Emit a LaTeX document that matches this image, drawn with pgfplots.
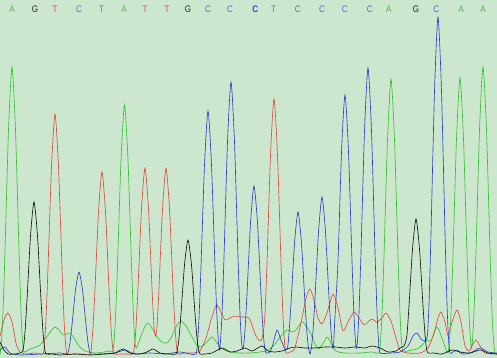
\documentclass[border=0pt]{standalone}
\usepackage{pgfplots}
\pgfplotsset{compat=1.18}
\usepackage{fontspec}
\setmainfont{Liberation Sans}
\definecolor{bg}{RGB}{205,231,206}
\definecolor{trA}{RGB}{50,195,50}
\definecolor{trT}{RGB}{220,75,65}
\definecolor{trC}{RGB}{45,65,200}
\definecolor{trG}{RGB}{20,20,20}
\definecolor{lA}{RGB}{70,185,70}
\definecolor{lT}{RGB}{205,85,75}
\definecolor{lC}{RGB}{80,110,190}
\definecolor{lG}{RGB}{40,40,40}
\definecolor{lCh}{RGB}{70,60,190}
\begin{document}
\begin{tikzpicture}
\begin{axis}[width=497bp, height=358bp, scale only axis,
  xmin=0, xmax=497, ymin=0, ymax=358,
  axis line style={draw=none}, ticks=none,
  axis background/.style={fill=bg}, clip=true]
% green (A)
\addplot[trA, line width=0.65pt, smooth, tension=0.4] coordinates {
(0,3) (1.5,17.4) (3,46) (5,107) (8.5,228) (12,291) (15.5,228) (19,107) (21,46) (22.5,17.4) (24,6)
(28,8) (33,10) (40,13) (46,20) (51,27) (55,31) (59,28) (63,23) (67,24) (70,25) (74,20) (79,12) (85,7) (95,5) (104,6) (110,7)
(112.5,6) (114,15.5) (115.5,40.5) (117.5,93) (121,198) (124.5,253) (128,198) (131.5,93) (133.5,40.5) (135,15.5) (136.5,10)
(141,22) (147,35) (152,30) (157,21) (162,16) (167,15) (172,22) (177,33) (181,37) (186,32) (191,23) (196,14) (201,11) (206,15) (212,21) (217,15) (222,9) (230,6) (240,5) (250,5) (260,6) (268,8) (275,14) (281,22) (287,28) (292,26) (296,28) (302,36) (306,32) (310,26) (314,16) (318,9) (322,13) (327,21) (331,15) (336,7) (345,5) (360,5) (372,6)
(379,5) (380.5,16.8) (382,44) (384,102) (387.5,218) (391,279) (394.5,218) (398,102) (400,44) (401.5,16.8) (403,6)
(407,7) (413,8) (419,10) (424,15) (427,18) (431,17) (437,31) (442,20) (446,8)
(448,5) (449.5,17) (451,44.5) (453,103) (456.5,219) (460,280) (463.5,219) (467,103) (469,45) (470.5,18) (471.5,10) (472.5,18) (474,46) (476,107) (479.5,228) (483,291) (486.5,228) (490,107) (492,46) (493.5,17.4) (495,5) (497,4)
};
% red (T)
\addplot[trT, line width=0.65pt, smooth, tension=0.4] coordinates {
(0,22) (4,38) (8,45) (12,36) (16,15) (20,6) (26,4) (35,5)
(43,4) (44.5,15) (46,39) (48,90) (51.5,191) (55,244) (58.5,191) (62,90) (64,39) (65.5,15) (67,4)
(72,4) (80,4)
(90,4) (91.5,12) (93,30.5) (95,69) (98.5,146) (102,186) (105.5,146) (109,69) (111,30.5) (112.5,12) (114,4)
(120,4) (128,4)
(133,4) (134.5,12) (136,31) (138,70) (141.5,149) (145,190) (148.5,149) (152,70) (154,31) (155.5,22) (157,31) (159,70) (162.5,149) (166,190) (169.5,149) (173,70) (175,31) (176.5,12) (178,4)
(184,5) (192,5) (200,7) (206,20) (211,38) (215,50) (217,53) (220,48) (225,38) (230,40) (235,42) (240,41) (245,41) (249,40) (252,33) (255,24)
(258,19) (261,17) (263.5,27) (265,45) (267,95) (270.5,203) (274,259) (277.5,203) (281,95) (283,41) (284.5,16) (286,5)
(290,6) (294,8) (297,18) (302,40) (306,60) (310,69) (314,58) (318,40) (322,34) (327,45) (333,64) (338,50) (343,27) (348,36) (354,46) (359,40) (364,33) (368,36) (372,39) (377,36) (382,40) (386,45) (391,37) (396,20) (400,8) (408,5) (420,5) (428,10) (434,25) (438,40) (441,46) (445,36) (448,22) (452,36) (457,48) (461,36) (465,12) (469,7) (473,14) (476,18) (480,12) (485,5) (497,4)
};
% blue (C)
\addplot[trC, line width=0.65pt, smooth, tension=0.4] coordinates {
(0,8) (5,11) (10,5) (20,3) (40,4) (60,5)
(67,4) (68.5,7) (70,15.5) (72,33) (75.5,68) (79,86) (82.5,68) (86,33) (88,15.5) (89.5,7) (91,4)
(100,4) (115,5) (125,8) (135,4) (150,5) (165,4) (180,6) (190,4)
(196,4) (197.5,15) (199,40) (201,91) (204.5,193) (208,247) (211.5,193) (215,91) (217,40) (218.5,15) (219.5,8)
(220.5,17) (222,44) (224,101) (227.5,216) (231,276) (234.5,216) (238,101) (240,44) (241.5,17) (242.5,9)
(243.5,11.5) (245,28) (247,64) (250.5,135) (254,172) (257.5,135) (261,64) (263,28) (264.5,11.5) (266,5)
(270,6) (273,14) (277,28) (281,18) (285,9)
(287.5,10) (289,24.5) (291,54.5) (294.5,114.5) (298,146) (301.5,114.5) (305,54.5) (307,24.5) (308.5,10) (310,4)
(311.5,11) (313,27) (315,60) (318.5,126) (322,161) (325.5,126) (329,60) (331,27) (332.5,11)
(333.5,12) (335,42) (338,96.6) (341.5,206) (345,263) (348.5,206) (352,96.6) (354,42) (355.5,16) (356.5,10)
(357.5,17.4) (359,46) (361,106) (364.5,227) (368,290) (371.5,227) (375,106) (377,46) (378.5,17.4) (380,5)
(390,5) (400,6) (408,12) (413,22) (417,25) (421,19) (424,17)
(426,18) (427.5,24) (429,54) (431,125) (434.5,267) (438,341) (441.5,267) (445,125) (447,54) (448.5,20) (450,5)
(453,6) (457,8) (462,4) (470,5) (480,10) (488,6) (497,5)
};
% black (G)
\addplot[trG, line width=0.65pt, smooth, tension=0.4] coordinates {
(0,16) (4,8) (8,4) (15,4) (20,5)
(22,6) (23.5,10.6) (25,26) (27,58) (30.5,122) (34,156) (37.5,122) (41,58) (43,26) (44.5,10.6) (46,4)
(52,4) (60,3) (75,4) (90,3) (105,4) (115,5) (123,9) (130,5) (140,4) (147,6) (153,9) (160,5) (168,4)
(176,4) (177.5,8.8) (179,20) (181,44.4) (184.5,93) (188,118) (191.5,93) (195,44.4) (197,20) (198.5,8.8) (200,4)
(205,4) (212,5) (222,10) (230,6) (237,7) (245,10) (252,7) (262,12) (268,7) (275,6) (282,7) (290,10) (296,11) (305,10) (315,10) (325,11) (335,11) (345,10) (355,11) (365,10) (372,12) (380,10) (388,6) (396,7) (400,10)
(404,12) (405.5,16) (407,23.4) (409,52) (412.5,109) (416,139) (419.5,109) (423,52) (425,23.4) (426.5,9.8) (428,5)
(434,5) (442,4) (452,8) (460,6) (470,5) (480,8) (488,5) (497,4)
};
% base calls
\begin{scope}[every node/.style={font=\fontsize{9.5}{9.5}\selectfont, inner sep=0pt, xscale=0.85}]
\node[text=lA] at (axis cs:12.3,349) {A};
\node[text=lG] at (axis cs:35,349) {G};
\node[text=lT] at (axis cs:55,349) {T};
\node[text=lC] at (axis cs:79,349) {C};
\node[text=lT] at (axis cs:101.7,349) {T};
\node[text=lA] at (axis cs:124,349) {A};
\node[text=lT] at (axis cs:145,349) {T};
\node[text=lT] at (axis cs:167,349) {T};
\node[text=lG] at (axis cs:188,349) {G};
\node[text=lC] at (axis cs:208,349) {C};
\node[text=lC] at (axis cs:230,349) {C};
\node[text=lCh, font=\fontsize{9.5}{9.5}\selectfont\bfseries] at (axis cs:255.3,349) {C};
\node[text=lT] at (axis cs:273.7,349) {T};
\node[text=lC] at (axis cs:297.7,349) {C};
\node[text=lC] at (axis cs:322,349) {C};
\node[text=lC] at (axis cs:344.7,349) {C};
\node[text=lC] at (axis cs:369.7,349) {C};
\node[text=lA] at (axis cs:388.7,349) {A};
\node[text=lG] at (axis cs:416,349) {G};
\node[text=lC] at (axis cs:436.3,349) {C};
\node[text=lA] at (axis cs:461.3,349) {A};
\node[text=lA] at (axis cs:483,349) {A};
\end{scope}
\end{axis}
\end{tikzpicture}
\end{document}
